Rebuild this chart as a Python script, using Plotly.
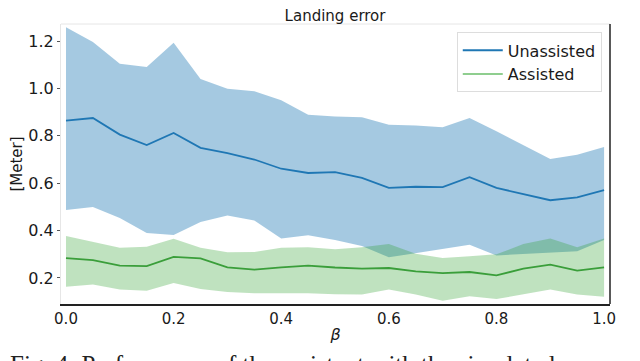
import plotly.graph_objects as go

# beta values
beta = [0.0, 0.05, 0.1, 0.15, 0.2, 0.25, 0.3, 0.35, 0.4, 0.45, 0.5,
        0.55, 0.6, 0.65, 0.7, 0.75, 0.8, 0.85, 0.9, 0.95, 1.0]

unassisted_mean = [0.864, 0.875, 0.805, 0.761, 0.812, 0.749, 0.727, 0.700, 0.661, 0.643, 0.647,
                   0.622, 0.580, 0.585, 0.583, 0.625, 0.580, 0.554, 0.528, 0.540, 0.571]
unassisted_upper = [1.258, 1.196, 1.104, 1.090, 1.193, 1.040, 0.999, 0.988, 0.950, 0.889, 0.882,
                    0.878, 0.847, 0.844, 0.836, 0.875, 0.819, 0.760, 0.702, 0.720, 0.753]
unassisted_lower = [0.487, 0.500, 0.453, 0.390, 0.381, 0.436, 0.464, 0.442, 0.366, 0.380, 0.360,
                    0.335, 0.287, 0.305, 0.320, 0.340, 0.295, 0.300, 0.305, 0.313, 0.360]

assisted_mean = [0.284, 0.275, 0.252, 0.250, 0.289, 0.283, 0.245, 0.235, 0.245, 0.252, 0.244,
                 0.239, 0.242, 0.228, 0.220, 0.225, 0.211, 0.239, 0.256, 0.231, 0.245]
assisted_upper = [0.377, 0.352, 0.327, 0.332, 0.365, 0.327, 0.308, 0.310, 0.327, 0.330, 0.321,
                  0.330, 0.343, 0.302, 0.284, 0.292, 0.300, 0.343, 0.366, 0.330, 0.366]
assisted_lower = [0.163, 0.172, 0.151, 0.146, 0.179, 0.153, 0.141, 0.135, 0.135, 0.135, 0.131,
                  0.130, 0.151, 0.130, 0.104, 0.123, 0.111, 0.130, 0.151, 0.130, 0.121]

x_ticks = [0.0, 0.2, 0.4, 0.6, 0.8, 1.0]
y_ticks = [0.2, 0.4, 0.6, 0.8, 1.0, 1.2]

FONT = "DejaVu Sans"

fig = go.Figure()

# blue band + line
fig.add_trace(go.Scatter(x=beta, y=unassisted_upper, mode="lines", line=dict(width=0),
                         showlegend=False, hoverinfo="skip"))
fig.add_trace(go.Scatter(x=beta, y=unassisted_lower, mode="lines", line=dict(width=0),
                         fill="tonexty", fillcolor="rgba(31,119,180,0.4)",
                         showlegend=False, hoverinfo="skip"))
fig.add_trace(go.Scatter(x=beta, y=unassisted_mean, mode="lines",
                         line=dict(color="#1f77b4", width=1.8), showlegend=False))

# green band + line
fig.add_trace(go.Scatter(x=beta, y=assisted_upper, mode="lines", line=dict(width=0),
                         showlegend=False, hoverinfo="skip"))
fig.add_trace(go.Scatter(x=beta, y=assisted_lower, mode="lines", line=dict(width=0),
                         fill="tonexty", fillcolor="rgba(44,160,44,0.3)",
                         showlegend=False, hoverinfo="skip"))
fig.add_trace(go.Scatter(x=beta, y=assisted_mean, mode="lines",
                         line=dict(color="#3a9e3a", width=1.8), showlegend=False))

# legend entries
fig.add_trace(go.Scatter(x=[None], y=[None], mode="lines", name="Unassisted",
                         line=dict(color="#1f77b4", width=2)))
fig.add_trace(go.Scatter(x=[None], y=[None], mode="lines", name="Assisted",
                         line=dict(color="#8fce8f", width=2)))

fig.update_layout(
    width=640, height=361,
    margin=dict(l=53, r=38, t=16, b=65),
    paper_bgcolor="white", plot_bgcolor="white",
    font=dict(family=FONT, size=16, color="#1a1a1a"),
    title=dict(text="Landing error", x=0.511, xanchor="center", y=0.978, yanchor="middle",
               font=dict(family=FONT, size=15, color="#1a1a1a")),
    legend=dict(x=0.985, y=0.97, xanchor="right", yanchor="top", traceorder="normal",
                bgcolor="rgba(255,255,255,0.9)", bordercolor="#dddddd", borderwidth=1,
                font=dict(family=FONT, size=16), itemwidth=40),
    showlegend=True,
)

fig.update_xaxes(range=[-0.0093, 1.011], tickvals=x_ticks, automargin=False,
                 ticktext=["0.0", "0.2", "0.4", "0.6", "0.8", "1.0"],
                 showgrid=False, zeroline=False, showline=True, linecolor="#222222", linewidth=1.5,
                 ticks="", tickfont=dict(size=15),
                 title=dict(text="<i>β</i>", standoff=2, font=dict(size=16)))
fig.update_yaxes(range=[0.09, 1.272], tickvals=y_ticks, automargin=False,
                 ticktext=["0.2", "0.4", "0.6", "0.8", "1.0", "1.2"],
                 showgrid=False, zeroline=False, showline=True, linecolor="#e6e6e6", linewidth=1,
                 ticks="outside", ticklen=3, tickcolor="#555555", tickfont=dict(size=16),
                 title=dict(text="[Meter]", standoff=2, font=dict(size=15)))

# top (light) and right (dark) spines
fig.add_shape(type="line", xref="paper", yref="paper", x0=0, x1=1, y0=1, y1=1,
              line=dict(color="#e6e6e6", width=1))
fig.add_shape(type="line", xref="paper", yref="paper", x0=1, x1=1, y0=0, y1=1,
              line=dict(color="#222222", width=1.5))

# figure caption, cut at the bottom edge like the source figure
fig.add_annotation(text="Fig. 4: Performance of the assistant with the simulated user",
                   xref="paper", yref="paper", x=-0.097, y=-0.16, xanchor="left", yanchor="top",
                   showarrow=False, font=dict(family="Liberation Serif", size=25, color="#222222"))

fig.write_html("out.html")
